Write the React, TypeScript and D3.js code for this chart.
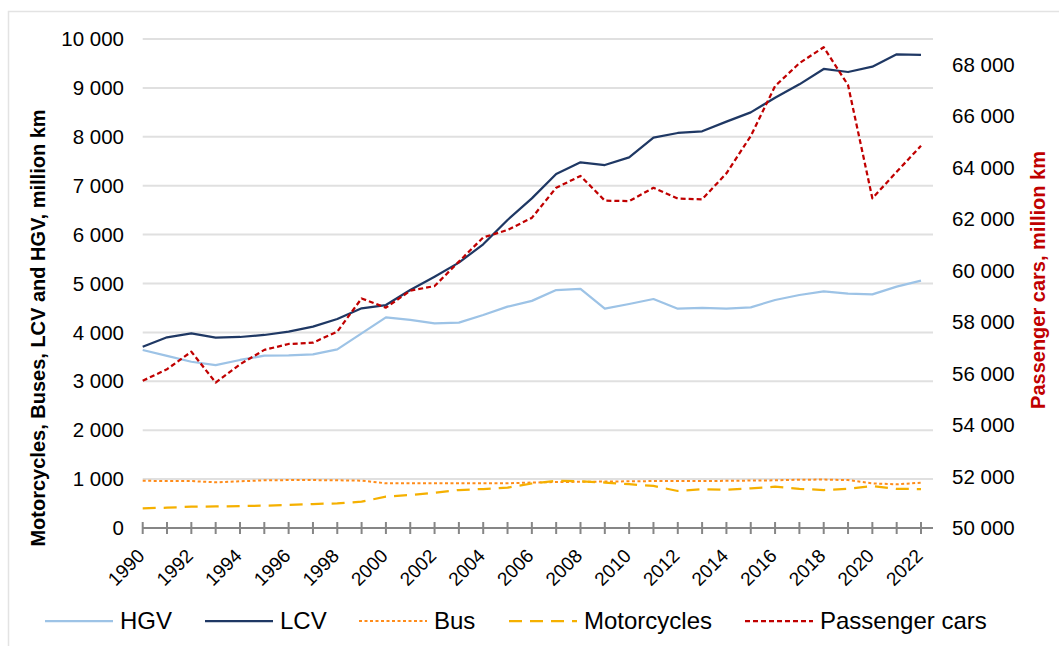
import React, { useEffect, useRef } from 'react';
import * as d3 from 'd3';

const years = d3.range(1990, 2023);

const hgv = [3640, 3520, 3400, 3330, 3436, 3524, 3531, 3551, 3654, 3981,
  4308, 4254, 4186, 4199, 4356, 4526, 4645, 4867, 4888, 4485,
  4581, 4683, 4485, 4499, 4485, 4513, 4663, 4765, 4840, 4792,
  4779, 4935, 5058];

const lcv = [3708, 3900, 3981, 3892, 3906, 3947, 4015, 4117, 4274, 4492,
  4560, 4867, 5140, 5427, 5802, 6299, 6740, 7239, 7478, 7423,
  7580, 7982, 8078, 8112, 8310, 8500, 8800, 9073, 9387, 9325,
  9434, 9687, 9673];

const bus = [965, 962, 960, 934, 955, 975, 980, 980, 975, 968,
  914, 914, 914, 914, 914, 914, 930, 940, 945, 950,
  955, 960, 960, 960, 965, 970, 975, 988, 990, 980,
  913, 893, 927];

const motorcycles = [402, 416, 436, 440, 450, 457, 470, 490, 504, 538,
  641, 675, 722, 777, 797, 825, 910, 965, 955, 930,
  895, 860, 757, 795, 780, 810, 845, 800, 777, 800,
  860, 800, 797];

const passengerCars = [55720, 56170, 56850, 55650, 56360, 56920, 57150, 57200, 57630, 58920,
  58560, 59220, 59400, 60350, 61290, 61580, 62050, 63220, 63680, 62720,
  62700, 63220, 62800, 62770, 63780, 65230, 67170, 68060, 68680, 67210,
  62810, 63840, 64850];

const leftTicks = d3.range(0, 10001, 1000);
const rightTicks = d3.range(50000, 68001, 2000);
const yearLabels = years.filter(y => y % 2 === 0);

const series = [
  { name: 'HGV', values: hgv, axis: 'left', color: '#9dc3e6', width: 2.25, dash: null },
  { name: 'LCV', values: lcv, axis: 'left', color: '#1f3864', width: 2.25, dash: null },
  { name: 'Bus', values: bus, axis: 'left', color: '#ff8c1a', width: 2, dash: '3,2.5' },
  { name: 'Motorcycles', values: motorcycles, axis: 'left', color: '#f5b000', width: 2.25, dash: '13,8' },
  { name: 'Passenger cars', values: passengerCars, axis: 'right', color: '#c00000', width: 2.25, dash: '5,3' },
];

const fmt = (v: number) => d3.format(',')(v).replace(/,/g, ' ');

export default function App() {
  const ref = useRef<SVGSVGElement>(null);

  useEffect(() => {
    const svg = d3.select(ref.current);
    svg.selectAll('*').remove();

    const width = 1059;
    const height = 646;
    const plot = { left: 142.7, right: 933, top: 39, bottom: 528 };

    const x = d3.scaleLinear()
      .domain([1990, 2022])
      .range([plot.left, 921]);

    const y = d3.scaleLinear()
      .domain([0, 10000])
      .range([plot.bottom, plot.top]);

    const y2 = d3.scaleLinear()
      .domain([50000, 69000])
      .range([plot.bottom, plot.top]);

    // outer frame
    svg.append('rect')
      .attr('x', 8.5).attr('y', 11.5)
      .attr('width', width).attr('height', height)
      .attr('fill', 'white')
      .attr('stroke', '#e3e3e3')
      .attr('stroke-width', 1.5);

    // gridlines
    svg.append('g')
      .selectAll('line')
      .data(leftTicks.filter(t => t > 0))
      .join('line')
      .attr('x1', plot.left).attr('x2', plot.right)
      .attr('y1', d => y(d)).attr('y2', d => y(d))
      .attr('stroke', '#e0e0e0')
      .attr('stroke-width', 2);

    const font = 'Liberation Sans, Arial, sans-serif';

    // left axis labels
    svg.append('g')
      .selectAll('text')
      .data(leftTicks)
      .join('text')
      .attr('x', 124)
      .attr('y', d => y(d))
      .attr('dy', '0.35em')
      .attr('text-anchor', 'end')
      .attr('font-family', font)
      .attr('font-size', 20.5)
      .attr('fill', '#000')
      .text(d => fmt(d));

    // right axis labels
    svg.append('g')
      .selectAll('text')
      .data(rightTicks)
      .join('text')
      .attr('x', 952)
      .attr('y', d => y2(d))
      .attr('dy', '0.35em')
      .attr('text-anchor', 'start')
      .attr('font-family', font)
      .attr('font-size', 20.5)
      .attr('fill', '#000')
      .text(d => fmt(d));

    // x axis line + cross ticks
    const xg = svg.append('g');
    xg.append('line')
      .attr('x1', plot.left).attr('x2', plot.right)
      .attr('y1', plot.bottom).attr('y2', plot.bottom)
      .attr('stroke', '#868686')
      .attr('stroke-width', 2);
    xg.selectAll('line.tick')
      .data(years)
      .join('line')
      .attr('class', 'tick')
      .attr('x1', d => x(d)).attr('x2', d => x(d))
      .attr('y1', plot.bottom - 6).attr('y2', plot.bottom + 6)
      .attr('stroke', '#868686')
      .attr('stroke-width', 2);
    xg.selectAll('text')
      .data(yearLabels)
      .join('text')
      .attr('transform', d => `translate(${x(d) + 3},${557}) rotate(-45)`)
      .attr('text-anchor', 'end')
      .attr('font-family', font)
      .attr('font-size', 19)
      .attr('fill', '#000')
      .text(d => d);

    // axis titles
    svg.append('text')
      .attr('transform', 'translate(45,328) rotate(-90)')
      .attr('text-anchor', 'middle')
      .attr('font-family', font)
      .attr('font-size', 20)
      .attr('font-weight', 'bold')
      .attr('fill', '#000')
      .text('Motorcycles, Buses, LCV and HGV, million km');

    svg.append('text')
      .attr('transform', 'translate(1045,280) rotate(-90)')
      .attr('text-anchor', 'middle')
      .attr('font-family', font)
      .attr('font-size', 20)
      .attr('font-weight', 'bold')
      .attr('fill', '#c00000')
      .text('Passenger cars, million km');

    // series lines
    series.forEach(s => {
      const scale = s.axis === 'left' ? y : y2;
      const line = d3.line<number>()
        .x((_, i) => x(years[i]))
        .y(d => scale(d));
      svg.append('path')
        .datum(s.values)
        .attr('fill', 'none')
        .attr('stroke', s.color)
        .attr('stroke-width', s.width)
        .attr('stroke-dasharray', s.dash)
        .attr('stroke-linejoin', 'round')
        .attr('d', line);
    });

    // legend
    const legendX = [45, 205, 359, 509, 745];
    const legendY = 621;
    const lg = svg.append('g');
    series.forEach((s, i) => {
      const lx = legendX[i];
      lg.append('line')
        .attr('x1', lx).attr('x2', lx + 68)
        .attr('y1', legendY).attr('y2', legendY)
        .attr('stroke', s.color)
        .attr('stroke-width', s.width)
        .attr('stroke-dasharray', s.dash);
      lg.append('text')
        .attr('x', lx + 75)
        .attr('y', legendY)
        .attr('dy', '0.35em')
        .attr('font-family', font)
        .attr('font-size', 24)
        .attr('fill', '#000')
        .text(s.name);
    });
  }, []);

  return (
    <svg ref={ref} width={1059} height={646}
      style={{ position: 'absolute', left: 0, top: 0, display: 'block' }} />
  );
}
